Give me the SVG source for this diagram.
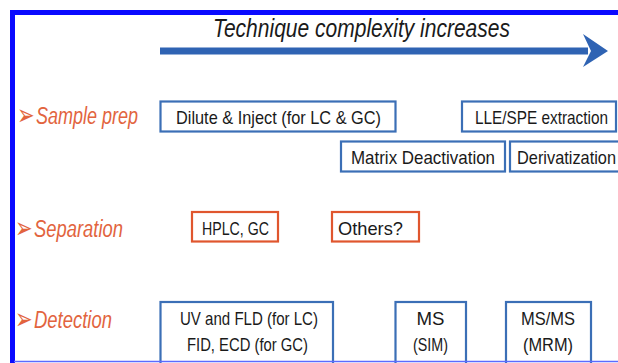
<svg xmlns="http://www.w3.org/2000/svg" width="618" height="363" viewBox="0 0 618 363">
  <style>
    .box-blue { fill: #ffffff; stroke: #3b6fb6; stroke-width: 2.2; }
    .box-orange { fill: #ffffff; stroke: #e0562e; stroke-width: 2.2; }
    .txt { font-family: "Liberation Sans", Arial, sans-serif; font-size: 19px; fill: #1a1a1a; }
    .mid { text-anchor: middle; }
    .label { font-family: "Liberation Sans", Arial, sans-serif; font-style: italic; font-size: 23px; fill: #e2643e; }
    .bullet { font-family: "DejaVu Sans", sans-serif; font-size: 21px; fill: #e2643e; }
    .title { font-family: "Liberation Sans", Arial, sans-serif; font-style: italic; font-size: 26px; fill: #1a1a1a; }
  </style>

  <!-- page background and frame -->
  <rect x="0" y="0" width="618" height="363" fill="#ffffff"/>
  <g id="frame">
    <line x1="12.5" y1="10" x2="12.5" y2="363" stroke="#0a0aff" stroke-width="5"/>
    <line x1="10" y1="12.5" x2="618" y2="12.5" stroke="#0a0aff" stroke-width="5"/>
  </g>

  <!-- complexity axis -->
  <g id="trend-arrow">
    <text class="title" x="213" y="37" textLength="297" lengthAdjust="spacingAndGlyphs">Technique complexity increases</text>
    <rect x="160" y="47.5" width="428" height="7" fill="#2f63b3"/>
    <polygon points="583,34 608,51 583,67 591,51" fill="#2f63b3"/>
  </g>

  <!-- row labels: bullet glyph stretched vertically -->
  <g id="label-sample-prep">
    <text class="bullet" x="0" y="0" transform="translate(17,125) scale(1,1.4)">➢</text>
    <text class="label" x="36" y="124" textLength="102" lengthAdjust="spacingAndGlyphs">Sample prep</text>
  </g>
  <g id="label-separation">
    <text class="bullet" x="0" y="0" transform="translate(15,238) scale(1,1.4)">➢</text>
    <text class="label" x="34" y="237" textLength="89" lengthAdjust="spacingAndGlyphs">Separation</text>
  </g>
  <g id="label-detection">
    <text class="bullet" x="0" y="0" transform="translate(15,329) scale(1,1.4)">➢</text>
    <text class="label" x="34" y="328" textLength="78" lengthAdjust="spacingAndGlyphs">Detection</text>
  </g>

  <!-- sample preparation -->
  <g id="node-dilute-inject">
    <rect class="box-blue" x="160.5" y="101.5" width="235" height="30"/>
    <text class="txt" x="176" y="124" textLength="205" lengthAdjust="spacingAndGlyphs">Dilute &amp; Inject (for LC &amp; GC)</text>
  </g>
  <g id="node-lle-spe">
    <rect class="box-blue" x="462" y="101.5" width="154" height="30"/>
    <text class="txt" x="475" y="124" textLength="133" lengthAdjust="spacingAndGlyphs">LLE/SPE extraction</text>
  </g>
  <g id="node-matrix-deactivation">
    <rect class="box-blue" x="341" y="141.5" width="164" height="30"/>
    <text class="txt" x="351" y="164" textLength="144" lengthAdjust="spacingAndGlyphs">Matrix Deactivation</text>
  </g>
  <g id="node-derivatization">
    <rect class="box-blue" x="510" y="141.5" width="120" height="30"/>
    <text class="txt" x="517" y="164" textLength="99" lengthAdjust="spacingAndGlyphs">Derivatization</text>
  </g>

  <!-- separation -->
  <g id="node-hplc-gc">
    <rect class="box-orange" x="192" y="212" width="86" height="29.5"/>
    <text class="txt" x="202" y="235" textLength="67" lengthAdjust="spacingAndGlyphs">HPLC, GC</text>
  </g>
  <g id="node-others">
    <rect class="box-orange" x="332" y="212" width="87" height="29.5"/>
    <text class="txt" x="338" y="235" textLength="65" lengthAdjust="spacingAndGlyphs">Others?</text>
  </g>

  <!-- detection -->
  <g id="node-uv-fld">
    <rect class="box-blue" x="160.5" y="302" width="172.5" height="70"/>
    <text class="txt" x="180" y="325" textLength="138" lengthAdjust="spacingAndGlyphs">UV and FLD (for LC)</text>
    <text class="txt" x="187" y="351" textLength="121" lengthAdjust="spacingAndGlyphs">FID, ECD (for GC)</text>
  </g>
  <g id="node-ms-sim">
    <rect class="box-blue" x="395.5" y="302" width="70.5" height="70"/>
    <text class="txt mid" x="430.5" y="325" textLength="28" lengthAdjust="spacingAndGlyphs">MS</text>
    <text class="txt mid" x="430.5" y="351" textLength="35" lengthAdjust="spacingAndGlyphs">(SIM)</text>
  </g>
  <g id="node-msms-mrm">
    <rect class="box-blue" x="506" y="302" width="85" height="70"/>
    <text class="txt mid" x="548" y="325" textLength="54" lengthAdjust="spacingAndGlyphs">MS/MS</text>
    <text class="txt mid" x="548" y="351" textLength="50" lengthAdjust="spacingAndGlyphs">(MRM)</text>
  </g>

  <!-- lower frame edge -->
  <line x1="14" y1="361.5" x2="618" y2="361.5" stroke="#5c6bff" stroke-width="1.5"/>
</svg>
